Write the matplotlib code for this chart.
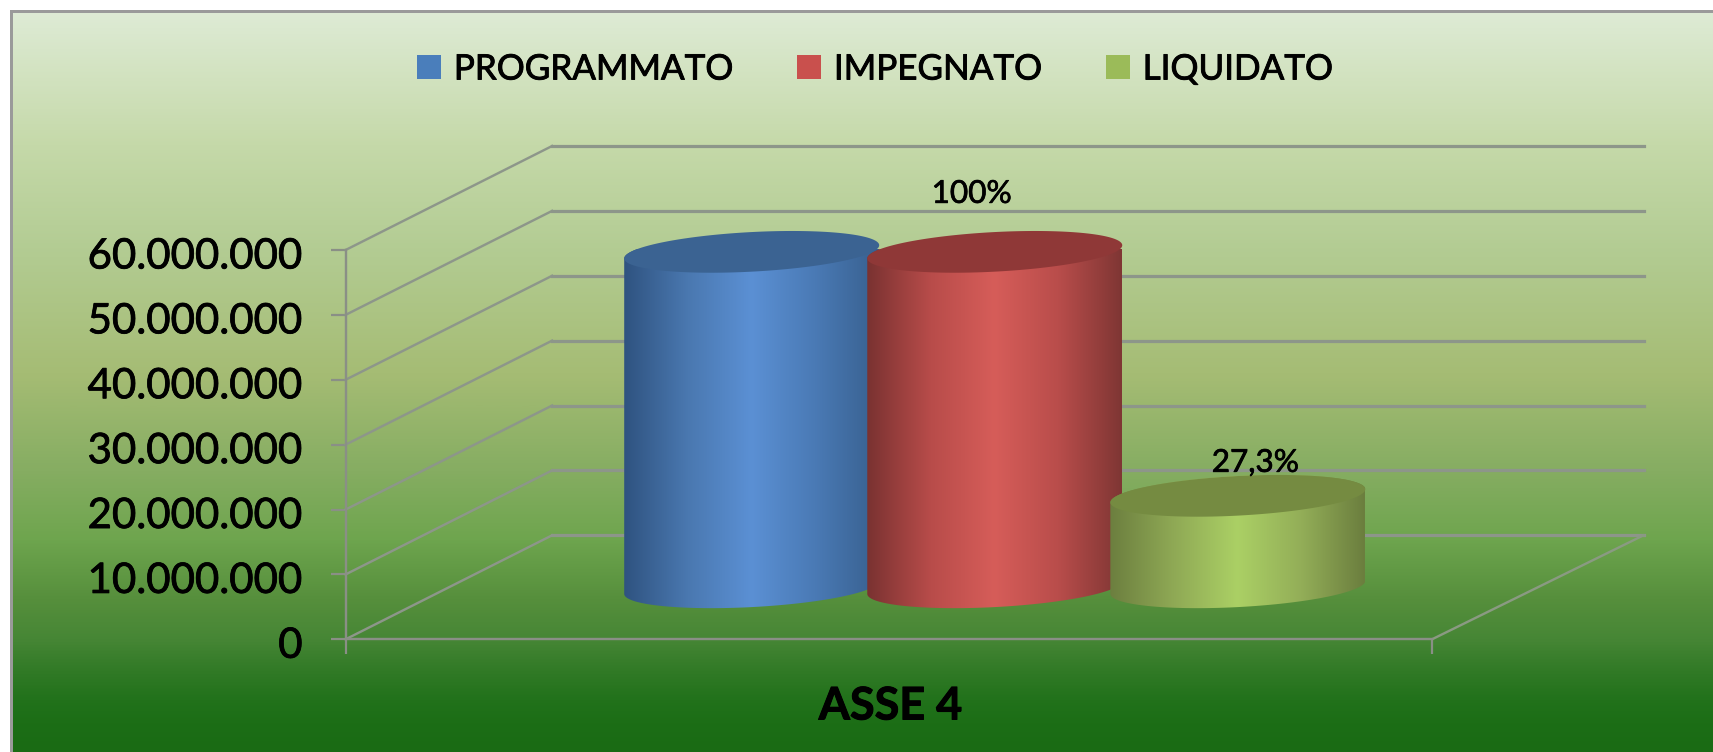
import numpy as np
import matplotlib
matplotlib.use("Agg")
import matplotlib.pyplot as plt
import matplotlib.patheffects as pe
from matplotlib.colors import LinearSegmentedColormap
from matplotlib.patches import Polygon, Patch
from matplotlib.transforms import Affine2D

series = ["PROGRAMMATO", "IMPEGNATO", "LIQUIDATO"]
values = [51700000, 51700000, 14100000]
data_labels = [None, "100%", "27,3%"]
yticks = [0, 10000000, 20000000, 30000000, 40000000, 50000000, 60000000]
ytick_labels = ["0", "10.000.000", "20.000.000", "30.000.000", "40.000.000", "50.000.000", "60.000.000"]
category = "ASSE 4"

W, H, DPI = 1713, 752, 100
FONT = "Lato"
plt.rcParams["font.family"] = [FONT, "DejaVu Sans"]
px = 72 / DPI


def heavy(t, amount):
    t.set_path_effects([pe.withStroke(linewidth=amount * px, foreground="black")])


# series styling: edge, highlight, far edge, top face, legend
side_colors = [
    ("#2f5380", "#4a78b0", "#5b90d4", "#4a7ab5", "#38608f"),
    ("#7a3231", "#b84c4a", "#d65d59", "#b94d4b", "#7f3634"),
    ("#6c7f3f", "#8fa955", "#abd065", "#93ae58", "#6b7e3e"),
]
top_colors = ["#3b6392", "#8f3837", "#758b41"]
legend_colors = ["#4a7ebb", "#c9504d", "#9bbb59"]
GRID = "#8d968a"

fig = plt.figure(figsize=(W / DPI, H / DPI), dpi=DPI, facecolor="white")

# background panel
bg = fig.add_axes([0, 0, 1, 1], zorder=0)
bg.set_xlim(0, W)
bg.set_ylim(H, 0)
bg.axis("off")
stops = [(0.0, "#deebd5"), (0.18, "#c5d9a9"), (0.32, "#b3cc93"), (0.49, "#a5bc74"),
         (0.62, "#86ad62"), (0.714, "#6ea54e"), (0.795, "#568f3c"), (0.85, "#468635"),
         (0.883, "#357c29"), (0.93, "#22721b"), (0.963, "#1c6e16"), (1.0, "#1a6b14")]
bg_cmap = LinearSegmentedColormap.from_list("panel", stops)
bg.imshow(np.linspace(0, 1, 512)[:, None], cmap=bg_cmap, aspect="auto",
          extent=(11, W, H, 11), interpolation="bilinear")
bg.set_xlim(0, W)
bg.set_ylim(H, 0)
bg.plot([11, 11, W], [H, 11, 11], color="#9a9a9a", lw=3 * px, clip_on=False,
        solid_joinstyle="miter")

# chart axes: the front plane of the 3-D box
x0, x1, y0, y1 = 345.6, 1432.0, 639.3, 250.0
ax = fig.add_axes([x0 / W, (H - y0) / H, (x1 - x0) / W, (y0 - y1) / H], zorder=1)
ax.patch.set_alpha(0)
PX_PER_X = 242.5
xlim = (1 - 2.246, 1 + 2.234)
ax.set_xlim(*xlim)
ax.set_ylim(0, 60000000)
PX_PER_V = (y0 - y1) / 60000000
DEPTH_Y = 104.0


def project(x, v, d):
    frac = (x - xlim[0]) / (xlim[1] - xlim[0])
    depth_x = 206.5 + 5.0 * frac
    return x + d * depth_x / PX_PER_X, v + d * DEPTH_Y / PX_PER_V


# walls
for v in yticks:
    xa, va = project(xlim[0], v, 1)
    xb, vb = project(xlim[1], v, 1)
    ax.plot([xlim[0], xa], [v, va], color=GRID, lw=2.4 * px, clip_on=False, zorder=2)
    ax.plot([xa, xb], [va, vb], color=GRID, lw=3.2 * px, clip_on=False, zorder=2)
xb, vb = project(xlim[1], 0, 1)
ax.plot([xlim[1], xb], [0, vb], color="#8a9a82", lw=2.4 * px, clip_on=False, zorder=2)

for name in ("top", "right"):
    ax.spines[name].set_visible(False)
for name in ("left", "bottom"):
    ax.spines[name].set_color("#8a8f86")
    ax.spines[name].set_linewidth(2.4 * px)
ax.set_yticks(yticks)
ax.set_yticklabels(ytick_labels, fontsize=42 * px, color="black")
ax.set_xticks(list(xlim))
ax.set_xticklabels(["", ""])
ax.tick_params(axis="both", length=15 * px, width=2.2 * px, color="#8a8f86")
ax.tick_params(axis="y", pad=28 * px)
for t in ax.get_yticklabels():
    heavy(t, 0.8)
    t.set_transform(t.get_transform() + Affine2D().translate(0, -3))
title = fig.text((820 + 961) / 2 / W, 1 - 706.5 / H, category, fontsize=45 * px, fontweight="bold",
                 ha="center", va="center", color="black")
heavy(title, 1.0)

# cylinders
BAR_W = 255.0 / PX_PER_X
B = 19.8 / PX_PER_V
K = 6.6 / PX_PER_V


def arc(cx, cv, t):
    return np.column_stack([cx + BAR_W / 2 * np.cos(t), cv + K * np.cos(t) + B * np.sin(t)])


for i, val in enumerate(values):
    cx, base = project(i, 0, 0.5)
    _, top = project(i, val, 0.5)
    front = arc(cx, base, np.linspace(np.pi, 2 * np.pi, 80))
    back = arc(cx, top, np.linspace(0, np.pi, 80))
    z = 3 + i * 2
    body = Polygon(np.vstack([front, back]), closed=True, fc="none", ec="none", zorder=z,
                   clip_on=False)
    ax.add_patch(body)
    cmap = LinearSegmentedColormap.from_list(f"s{i}", side_colors[i])
    im = ax.imshow(np.linspace(0, 1, 256)[None, :], cmap=cmap, aspect="auto", zorder=z,
                   extent=(cx - BAR_W / 2, cx + BAR_W / 2, base - 40 / PX_PER_V, top + 40 / PX_PER_V),
                   interpolation="bilinear")
    im.set_clip_box(None)
    im.set_clip_path(body.get_path(), body.get_transform())
    lid = arc(cx, top, np.linspace(0, 2 * np.pi, 160))
    ax.add_patch(Polygon(lid, closed=True, fc=top_colors[i], ec="none", zorder=z + 0.5, clip_on=False))
ax.set_xlim(*xlim)
ax.set_ylim(0, 60000000)

# data labels
label_offsets = [None, (-23, 58), (17.5, 33)]
for i, (lab, off) in enumerate(zip(data_labels, label_offsets)):
    if lab is None:
        continue
    a = ax.annotate(lab, xy=project(i, values[i], 0.5), xytext=(off[0] * px, off[1] * px),
                    textcoords="offset points", ha="center", va="center",
                    fontsize=31.5 * px, color="black", zorder=10, annotation_clip=False)
    heavy(a, 0.7)

# legend
handles = [Patch(fc=c, ec="none", label=s) for c, s in zip(legend_colors, series)]
FS = 35.0
leg = fig.legend(handles=handles, ncols=3, loc="center", bbox_to_anchor=(875 / W, 1 - 69.5 / H),
                 frameon=False, fontsize=FS * px, handlelength=24 / FS, handleheight=24 / FS,
                 handletextpad=13 / FS, columnspacing=63 / FS, borderpad=0, borderaxespad=0)
for t in leg.get_texts():
    heavy(t, 0.9)

fig.savefig("out.png", dpi=DPI, facecolor="white")
